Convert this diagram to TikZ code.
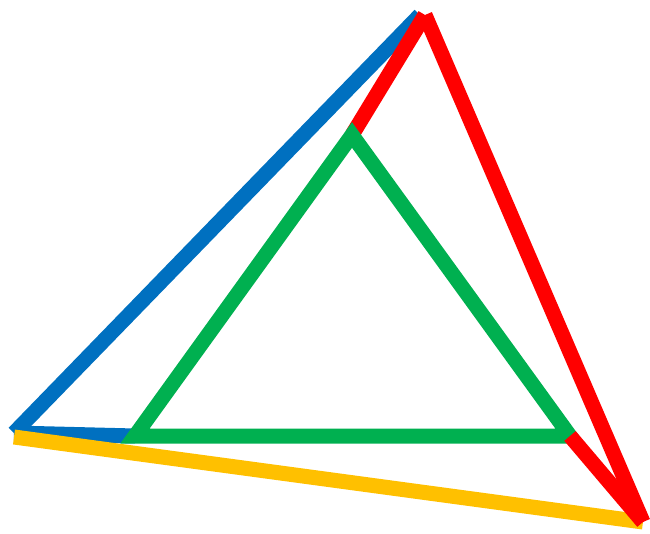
\documentclass[tikz,border=0pt]{standalone}
\usepackage{tikz}
\usetikzlibrary{positioning}

\definecolor{edgeblue}{RGB}{0,112,192}
\definecolor{edgered}{RGB}{255,0,0}
\definecolor{edgegreen}{RGB}{0,176,80}
\definecolor{edgeyellow}{RGB}{255,192,0}

\begin{document}
\begin{tikzpicture}[
      x=.02cm, y=-.02cm,
      every path/.style={line width=.3cm, line join=miter},
      blueedge/.style={draw=edgeblue},
      rededge/.style={draw=edgered},
      greenedge/.style={draw=edgegreen},
      yellowedge/.style={draw=edgeyellow}
    ]
      \useasboundingbox (0,0) rectangle (650,534);

      \coordinate (left) at (14,433);
      \coordinate (top) at (420,15);
      \coordinate (rtop) at (425,15);
      \coordinate (right) at (643,522);
      \coordinate (lowleft) at (14,437);
      \coordinate (gleft) at (135,436);
      \coordinate (gtop) at (352,135);
      \coordinate (gright) at (570,436);

      \draw[blueedge] (left) -- (top);
      \draw[blueedge] (left) -- (gleft);
      \draw[yellowedge] (lowleft) -- (right);
      \draw[rededge] (gtop) -- (rtop);
      \draw[rededge] (rtop) -- (right);
      \draw[greenedge] (gleft) -- (gtop) -- (gright) -- cycle;
      \draw[rededge] (gright) -- (right);
    \end{tikzpicture}
\end{document}
